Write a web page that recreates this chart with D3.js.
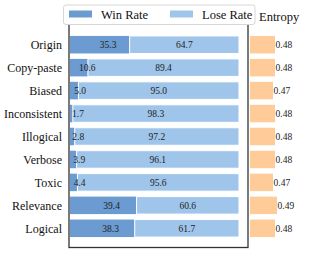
<!DOCTYPE html>
<html lang="en">
<head>
<style>
  body { margin: 0; background: #fff; }
</style>
</head>
<body>
<script src="https://d3js.org/d3.v7.min.js"></script>
<script>
    var width = 314, height = 253;

    // data
    var categories = ['Origin', 'Copy-paste', 'Biased', 'Inconsistent', 'Illogical', 'Verbose', 'Toxic', 'Relevance', 'Logical'];
    var winRate = [35.3, 10.6, 5.0, 1.7, 2.8, 3.9, 4.4, 39.4, 38.3];
    var loseRate = [64.7, 89.4, 95.0, 98.3, 97.2, 96.1, 95.6, 60.6, 61.7];
    var entropy = [0.48, 0.48, 0.47, 0.48, 0.48, 0.48, 0.47, 0.49, 0.48];
    var legendLabels = ['Win Rate', 'Lose Rate'];

    var winColor = '#6b9bd1', loseColor = '#9fc5ea', entColor = '#ffcc99';

    var svg = d3.select('body').append('svg')
        .attr('width', width).attr('height', height)
        .attr('font-family', '"Liberation Serif", "Times New Roman", Times, serif');

    var x = d3.scaleLinear().domain([0, 100]).range([70, 239]);
    var y = d3.scalePoint().domain(categories).range([44.7, 228.3]);
    var xe = d3.scaleLinear().domain([0.355, 0.5]).range([250, 279]);
    var barH = 17.5;

    var rows = categories.map(function (c, i) {
        return { cat: c, win: winRate[i], lose: loseRate[i], ent: entropy[i] };
    });

    // win bars
    svg.selectAll('rect.win').data(rows).join('rect')
        .attr('class', 'win')
        .attr('x', x(0))
        .attr('y', function (d) { return y(d.cat) - barH / 2 })
        .attr('width', function (d) { return x(d.win) - x(0) })
        .attr('height', barH)
        .attr('fill', winColor);

    // lose bars
    svg.selectAll('rect.lose').data(rows).join('rect')
        .attr('class', 'lose')
        .attr('x', function (d) { return x(d.win) })
        .attr('y', function (d) { return y(d.cat) - barH / 2 })
        .attr('width', function (d) { return x(d.win + d.lose) - x(d.win) })
        .attr('height', barH)
        .attr('fill', loseColor)
        .attr('stroke', '#fff')
        .attr('stroke-width', 1);

    // value labels
    svg.selectAll('text.wl').data(rows).join('text')
        .attr('class', 'wl')
        .attr('x', function (d) { return Math.max(x(d.win / 2), 72) })
        .attr('y', function (d) { return y(d.cat) })
        .attr('dy', '0.35em')
        .attr('font-size', 9.5)
        .attr('fill', '#222')
        .text(function (d) { return d.win.toFixed(1) });

    svg.selectAll('text.ll').data(rows).join('text')
        .attr('class', 'll')
        .attr('x', function (d) { return x(d.win + d.lose / 2) })
        .attr('y', function (d) { return y(d.cat) })
        .attr('dy', '0.35em')
        .attr('text-anchor', 'middle')
        .attr('font-size', 9.5)
        .attr('fill', '#222')
        .text(function (d) { return d.lose.toFixed(1) });

    // category labels
    svg.selectAll('text.cat').data(rows).join('text')
        .attr('class', 'cat')
        .attr('x', 62)
        .attr('y', function (d) { return y(d.cat) })
        .attr('dy', '0.35em')
        .attr('text-anchor', 'end')
        .attr('font-size', 12)
        .attr('fill', '#111')
        .text(function (d) { return d.cat });

    // frame
    svg.append('rect')
        .attr('x', 69).attr('y', 23)
        .attr('width', 179).attr('height', 224.5)
        .attr('fill', 'none')
        .attr('stroke', '#333')
        .attr('stroke-width', 1.3);

    // entropy bars
    svg.selectAll('rect.ent').data(rows).join('rect')
        .attr('class', 'ent')
        .attr('x', xe.range()[0])
        .attr('y', function (d) { return y(d.cat) - barH / 2 })
        .attr('width', function (d) { return xe(d.ent) - xe.range()[0] })
        .attr('height', barH)
        .attr('fill', entColor);

    svg.selectAll('text.el').data(rows).join('text')
        .attr('class', 'el')
        .attr('x', function (d) { return xe(d.ent) + 0.5 })
        .attr('y', function (d) { return y(d.cat) })
        .attr('dy', '0.35em')
        .attr('font-size', 9.5)
        .attr('fill', '#222')
        .text(function (d) { return d.ent.toFixed(2) });

    svg.append('text')
        .attr('x', 259).attr('y', 21)
        .attr('font-size', 12.5)
        .attr('fill', '#111')
        .text('Entropy');

    // legend
    var lg = svg.append('g');
    lg.append('rect')
        .attr('x', 63.5).attr('y', 5)
        .attr('width', 191.5).attr('height', 19.5)
        .attr('rx', 2.5)
        .attr('fill', '#fff')
        .attr('stroke', '#d6d6d6')
        .attr('stroke-width', 1);
    var legendX = [69, 170];
    var legendColors = [winColor, loseColor];
    legendLabels.forEach(function (lab, i) {
        lg.append('rect')
            .attr('x', legendX[i]).attr('y', 10.5)
            .attr('width', 23).attr('height', 7)
            .attr('fill', legendColors[i]);
        lg.append('text')
            .attr('x', legendX[i] + 32).attr('y', 18.5)
            .attr('font-size', 12.5)
            .attr('fill', '#111')
            .text(lab);
    });
</script>
</body>
</html>
